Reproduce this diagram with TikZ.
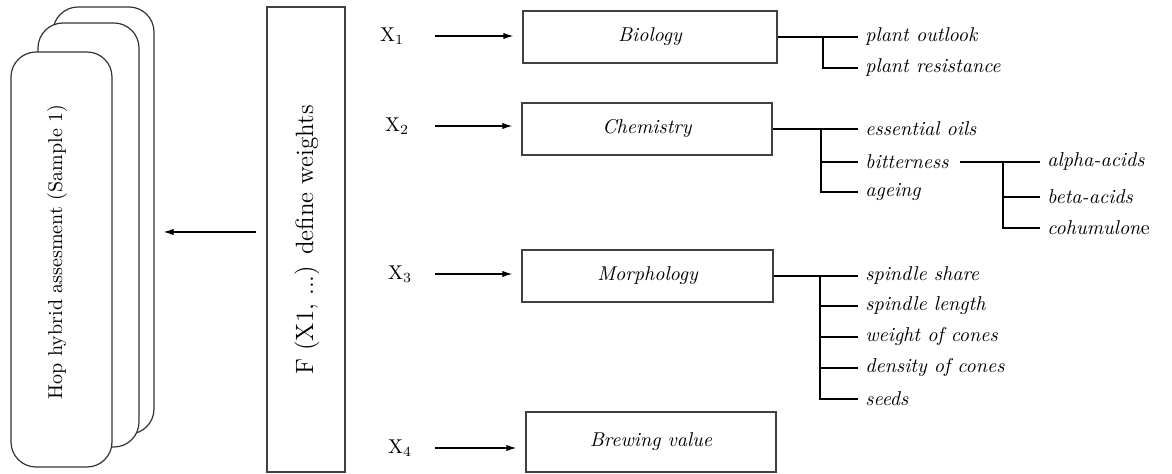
\documentclass[tikz,border=0pt]{standalone}
\usepackage{tikz}
\usetikzlibrary{arrows.meta, positioning, calc}
\tikzstyle{sample} = [rectangle, draw=black!80, fill=white, rounded corners=12.5pt, minimum width=50.5pt, line width=0.6pt]
\tikzstyle{group} = [rectangle, draw=black!75, minimum width=125pt, minimum height=26pt, font=\itshape, line width=0.7pt]
\tikzstyle{leaf} = [anchor=west, inner sep=3.5pt, font=\itshape]
\tikzstyle{var} = [inner sep=1pt]
\tikzstyle{arrow} = [-{Latex[length=5pt, width=3.2pt]}, line width=0.6pt]
\tikzstyle{branch} = [line width=0.6pt]

\begin{document}
\begin{tikzpicture}[x=0.5pt, y=-0.5pt]
    \useasboundingbox (0,0) rectangle (1172,474);

    % Sample stack
    \node[sample, minimum height=213.5pt] (back) at (103.5, 220.5) {};
    \node[sample, minimum height=212pt] (middle) at (88.5, 235) {};
    \node[sample, minimum height=207.5pt] (hop) at (61.5, 259.5) {};
    \node[rotate=90] (hoptext) at (57, 252) {Hop hybrid assesment (Sample 1)};

    % Weight function
    \node[draw=black!75, line width=0.7pt, minimum width=39pt, minimum height=232.5pt] (weights) at (306, 239.5) {};
    \node[rotate=90, font=\fontsize{12.5}{15}\selectfont] (wtext) at (307, 240) {F (X1, ...) define weights};
    \coordinate (wout) at ([yshift=3.75pt]weights.west);
    \draw[arrow, shorten <=5pt, shorten >=4.5pt] (wout) -- (wout -| back.east);

    % Groups
    \node[group, minimum width=127pt] (bio) at (650, 37) {Biology};
    \node[group] (chem) at (647, 129) {Chemistry};
    \node[group, minimum width=125.5pt] (morph) at (647.5, 276) {Morphology};
    \node[group, minimum height=30pt] (brew) at (651, 442) {Brewing value};

    % Inputs
    \node[var] (x1) at (392, 36) {X$_1$};
    \node[var] (x2) at (397, 126) {X$_2$};
    \node[var] (x3) at (400, 274) {X$_3$};
    \node[var] (x4) at (400, 448) {X$_4$};
    \foreach \v/\g/\s in {x1/bio/14.5pt, x2/chem/12pt, x3/morph/10.5pt, x4/brew/10.5pt}
        \draw[arrow, shorten <=\s, shorten >=4.5pt] (\v.east) -- (\v.east -| \g.west);

    % Biology
    \node[leaf] (outlook) at (858, 37) {plant outlook};
    \node[leaf] (resist) at (858, 68) {plant resistance};
    \coordinate (biofork) at (823, 37);
    \draw[branch] (bio.east) -- (outlook.west);
    \draw[branch] (biofork) |- (resist.west);

    % Chemistry
    \node[leaf] (oils) at (858, 129) {essential oils};
    \node[leaf] (bitter) at (858, 162) {bitterness};
    \node[leaf] (ageing) at (858, 192) {ageing};
    \coordinate (chemfork) at (821, 129);
    \draw[branch] (chem.east) -- (oils.west);
    \draw[branch] (chemfork) |- (ageing.west);
    \draw[branch] (chemfork |- bitter.west) -- (bitter.west);

    % Bitterness
    \node[leaf] (alpha) at (1040, 162) {alpha-acids};
    \node[leaf] (beta) at (1040, 197) {beta-acids};
    \node[leaf] (cohum) at (1040, 228) {cohumulon\textup{e}};
    \coordinate (bitterfork) at (1003, 162);
    \draw[branch, shorten <=2pt] (bitter.east) -- (alpha.west);
    \draw[branch] (bitterfork) |- (cohum.west);
    \draw[branch] (bitterfork |- beta.west) -- (beta.west);

    % Morphology
    \node[leaf] (share) at (858, 276) {spindle share};
    \node[leaf] (length) at (858, 306) {spindle length};
    \node[leaf] (weight) at (858, 337) {weight of cones};
    \node[leaf] (density) at (858, 368) {density of cones};
    \node[leaf] (seeds) at (858, 399) {seeds};
    \coordinate (morphfork) at (820, 276);
    \draw[branch] (morph.east) -- (share.west);
    \draw[branch] (morphfork) |- (seeds.west);
    \draw[branch] (morphfork |- length.west) -- (length.west);
    \draw[branch] (morphfork |- weight.west) -- (weight.west);
    \draw[branch] (morphfork |- density.west) -- (density.west);
\end{tikzpicture}
\end{document}
